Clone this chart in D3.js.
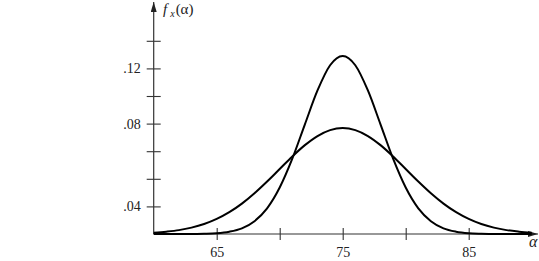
<!DOCTYPE html>
<meta charset="utf-8">
<title>f_x(alpha)</title>

<style>
body{
	margin: 0;
	background: white;
}
</style>

<body>

<script src="https://d3js.org/d3.v7.min.js"></script>

<script>

var width = 539;
var height = 261;
var serif = '"Liberation Serif", "Times New Roman", serif';

// alpha values (x) and the two density curves
var alpha = [60, 61, 62, 63, 64, 65, 66, 67, 68, 69, 70, 71, 72, 73, 74, 75,
	76, 77, 78, 79, 80, 81, 82, 83, 84, 85, 86, 87, 88, 89, 90];

var narrow = [0, 0, 0, 0, .0002, .0006, .0017, .0041, .0093, .0186, .0337, .0546, .0795, .1040, .1223, .1290,
	.1223, .1040, .0795, .0546, .0337, .0186, .0093, .0041, .0017, .0006, .0002, 0, 0, 0, 0];

var wide = [.0009, .0017, .0028, .0046, .0072, .0109, .0158, .0220, .0295, .0380, .0471, .0562, .0644, .0710, .0753, .0768,
	.0753, .0710, .0644, .0562, .0471, .0380, .0295, .0220, .0158, .0109, .0072, .0046, .0028, .0017, .0009];

var xTicks = [65, 70, 75, 80, 85];
var xTickLabels = ['65', '', '75', '', '85'];

var yTicks = [.02, .04, .06, .08, .10, .12, .14];
var yTickLabels = ['.04', '', '', '.08', '', '.12', ''];

var x = d3.scaleLinear()
	.domain([60, 90])
	.range([153.7, 531.7]);

var y = d3.scaleLinear()
	.domain([0, .14])
	.range([234, 40.8]);

var svg = d3.select('body')
	.append('svg')
	.attr('width', width)
	.attr('height', height);

svg.append('defs')
	.append('marker')
	.attr('id', 'arrow')
	.attr('viewBox', '0 0 10 6')
	.attr('refX', 10)
	.attr('refY', 3)
	.attr('markerWidth', 10)
	.attr('markerHeight', 6)
	.attr('markerUnits', 'userSpaceOnUse')
	.attr('orient', 'auto')
	.append('path')
	.attr('d', 'M0,0 L10,3 L0,6 Z')
	.attr('fill', '#222');

// axis lines with arrows
svg.append('line')
	.attr('x1', x(60)).attr('y1', y(0))
	.attr('x2', 538).attr('y2', y(0))
	.attr('stroke', '#333')
	.attr('stroke-width', 1.2)
	.attr('marker-end', 'url(#arrow)');

svg.append('line')
	.attr('x1', x(60)).attr('y1', y(0))
	.attr('x2', x(60)).attr('y2', 2)
	.attr('stroke', '#333')
	.attr('stroke-width', 1.2)
	.attr('marker-end', 'url(#arrow)');

// x ticks
var gx = svg.append('g')
	.attr('transform', 'translate(0,' + y(0) + ')')
	.call(d3.axisBottom(x)
		.tickValues(xTicks)
		.tickSize(6)
		.tickPadding(7)
		.tickFormat(function(d, i){ return xTickLabels[i]; }))
	.attr('font-family', serif)
	.attr('font-size', 14);

gx.select('.domain').remove();
gx.selectAll('.tick line')
	.attr('y1', -6)
	.attr('stroke', '#333')
	.attr('stroke-width', 1.1);
gx.selectAll('.tick text').attr('fill', '#222');

// y ticks
var gy = svg.append('g')
	.attr('transform', 'translate(' + x(60) + ',0)')
	.call(d3.axisLeft(y)
		.tickValues(yTicks)
		.tickSize(7)
		.tickPadding(6)
		.tickFormat(function(d, i){ return yTickLabels[i]; }))
	.attr('font-family', serif)
	.attr('font-size', 14);

gy.select('.domain').remove();
gy.selectAll('.tick line')
	.attr('x1', -7)
	.attr('x2', 7)
	.attr('stroke', '#333')
	.attr('stroke-width', 1.1);
gy.selectAll('.tick text').attr('fill', '#222');

// curves
var line = d3.line()
	.x(function(d){ return x(d[0]); })
	.y(function(d){ return y(d[1]); })
	.curve(d3.curveMonotoneX);

[narrow, wide].forEach(function(series){
	svg.append('path')
		.datum(alpha.map(function(a, i){ return [a, series[i]]; }))
		.attr('d', line)
		.attr('fill', 'none')
		.attr('stroke', 'black')
		.attr('stroke-width', 2);
});

// axis titles
var ylab = svg.append('text')
	.attr('x', 163)
	.attr('y', 14)
	.attr('font-family', serif)
	.attr('font-size', 15)
	.attr('fill', '#222');
ylab.append('tspan').attr('font-style', 'italic').text('f');
ylab.append('tspan').attr('font-style', 'italic').attr('font-size', 10).attr('dx', 3).attr('dy', 3).text('x');
ylab.append('tspan').attr('dy', -3).attr('dx', 1).text('(α)');

svg.append('text')
	.attr('x', 529)
	.attr('y', 247)
	.attr('font-family', serif)
	.attr('font-size', 16)
	.attr('font-style', 'italic')
	.attr('fill', '#222')
	.text('α');

</script>
</body>
